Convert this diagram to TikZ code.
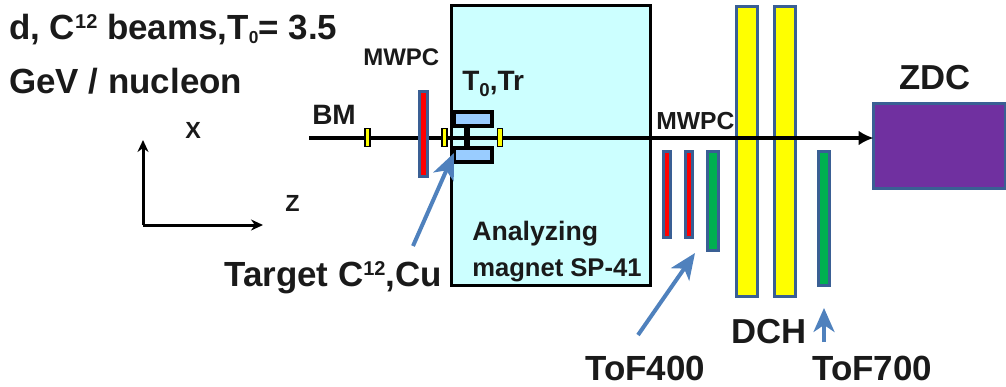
\documentclass[tikz,border=0pt]{standalone}
\usepackage{fontspec}
\setmainfont{Liberation Sans}
\usetikzlibrary{arrows.meta}
\definecolor{edgeblue}{HTML}{3A5F94}
\definecolor{arrowblue}{HTML}{4F81BD}
\definecolor{txt}{HTML}{1A1A1A}
\definecolor{magnetfill}{HTML}{CCFFFF}
\definecolor{tofill}{HTML}{99CCFF}
\definecolor{tofgreen}{HTML}{00B050}
\definecolor{zdcfill}{HTML}{7030A0}
\definecolor{pureyellow}{HTML}{FFFF00}
\definecolor{purered}{HTML}{FF0000}
\newcommand{\px}{0.75pt}
\newcommand{\supr}[1]{\raisebox{8pt}{\fontsize{15}{15}\selectfont #1}}
\tikzset{
  x=0.75pt,y=-0.75pt,
  det/.style={draw=edgeblue,line width=3*\px,inner sep=0pt,outer sep=0pt},
  mwpcbar/.style={det,fill=purered},
  tofbar/.style={det,fill=tofgreen},
  dchbar/.style={det,fill=pureyellow},
  marker/.style={draw=black,line width=1.5*\px,fill=pureyellow,inner sep=0pt,outer sep=0pt,minimum width=5*\px,minimum height=18*\px},
  tzero/.style={draw=black,line width=4*\px,fill=tofill,inner sep=0pt,outer sep=0pt,minimum width=38*\px,minimum height=14*\px},
  lab/.style={inner sep=0pt,text=txt,font=\bfseries,anchor=base west},
  pointer/.style={draw=arrowblue,line width=4*\px,-{Stealth[length=26*\px,width=22*\px,inset=7*\px]}},
  axis/.style={draw=black,line width=3*\px,-{Stealth[length=12*\px,width=11*\px]}},
}
\begin{document}
\begin{tikzpicture}
\useasboundingbox (0,0) rectangle (1006,386);
% magnet
\node[draw=black,line width=3.5*\px,fill=magnetfill,inner sep=0pt,minimum width=199*\px,minimum height=280*\px] (magnet) at (551,145.5) {};
% beam
\coordinate (beamstart) at (309,138);
\node[det,fill=zdcfill,minimum width=132*\px,minimum height=85*\px] (zdc) at (939.5,145.5) {};
% DCH and detectors
\node[dchbar,minimum width=21*\px,minimum height=290*\px] (dch1) at (746.5,151) {};
\node[dchbar,minimum width=21*\px,minimum height=290*\px] (dch2) at (784.5,151) {};
\draw[line width=3.5*\px,-{Latex[length=15*\px,width=15*\px]}] (beamstart) -- (beamstart -| zdc.west);
\node[mwpcbar,minimum width=8*\px,minimum height=85*\px] (m1) at (423.5,133.5) {};
\node[mwpcbar,minimum width=7.5*\px,minimum height=86*\px] (m2) at (667,194) {};
\node[mwpcbar,minimum width=7.5*\px,minimum height=86*\px] (m3) at (689,194) {};
\node[tofbar,minimum width=11*\px,minimum height=99*\px] (t1) at (713,200.5) {};
\node[tofbar,minimum width=11*\px,minimum height=134*\px] (t2) at (824,218) {};
% markers
\node[marker] (y1) at (367.5,137.5) {};
\node[marker] (y2) at (444.5,137.5) {};
\node[marker] (y3) at (500,137.5) {};
% T0
\node[tzero] (tup) at (473,119) {};
\node[tzero] (tdn) at (473,155) {};
\draw[line width=6.5*\px] (tup.south -| 467,0) -- (tdn.north -| 467,0);
% pointers
\coordinate (p1s) at (413,246);
\coordinate (p1e) at (454,153);
\coordinate (p2s) at (638,335);
\coordinate (p2e) at (695,253);
\coordinate (p3s) at (824,342);
\coordinate (p3e) at (824,308);
\draw[pointer] (p1s) -- (p1e);
\draw[pointer] (p2s) -- (p2e);
\draw[draw=arrowblue,line width=3.5*\px,-{Stealth[length=24*\px,width=21*\px,inset=7*\px]}] (p3s) -- (p3e);
% axes
\coordinate (orig) at (143,225);
\coordinate (xtip) at (143,140);
\coordinate (ztip) at (263,225);
\draw[axis] (orig) -- (xtip);
\draw[axis] (orig) -- (ztip);
% labels
\node[lab,font=\bfseries\fontsize{26.2}{26.2}\selectfont] (title1) at (9,39) {d, C\supr{12} beams,T\raisebox{-3pt}{\fontsize{13}{13}\selectfont 0}= 3.5};
\node[lab,font=\bfseries\fontsize{26.2}{26.2}\selectfont] (title2) at (9,93) {GeV / nucleon};
\node[lab,font=\bfseries\fontsize{18}{18}\selectfont] (mw1) at (363,65) {MWPC};
\node[lab,font=\bfseries\fontsize{18.5}{18.5}\selectfont] (mw2) at (656,129) {MWPC};
\node[lab,font=\bfseries\fontsize{21}{21}\selectfont] (bm) at (312,124) {BM};
\node[lab,font=\bfseries\fontsize{21}{21}\selectfont] (t0tr) at (462,90) {T\raisebox{-5pt}{\fontsize{14}{14}\selectfont 0},Tr};
\node[lab,font=\bfseries\fontsize{17.5}{17.5}\selectfont] (xl) at (185,138) {X};
\node[lab,font=\bfseries\fontsize{17.5}{17.5}\selectfont] (zl) at (285,211) {Z};
\node[lab,font=\bfseries\fontsize{20}{20}\selectfont] (an1) at (472,240) {Analyzing};
\node[lab,font=\bfseries\fontsize{19.2}{19.2}\selectfont] (an2) at (472,276) {magnet SP-41};
\node[lab,font=\bfseries\fontsize{26.2}{26.2}\selectfont] (tg) at (224,286) {Target C\supr{12},Cu};
\node[lab,font=\bfseries\fontsize{26.2}{26.2}\selectfont] (tf4) at (585,380) {ToF400};
\node[lab,font=\bfseries\fontsize{26.2}{26.2}\selectfont] (tf7) at (812,380) {ToF700};
\node[lab,font=\bfseries\fontsize{26}{26}\selectfont] (dchl) at (731,343) {DCH};
\node[lab,font=\bfseries\fontsize{26}{26}\selectfont] (zdcl) at (899,89) {ZDC};
\end{tikzpicture}
\end{document}
